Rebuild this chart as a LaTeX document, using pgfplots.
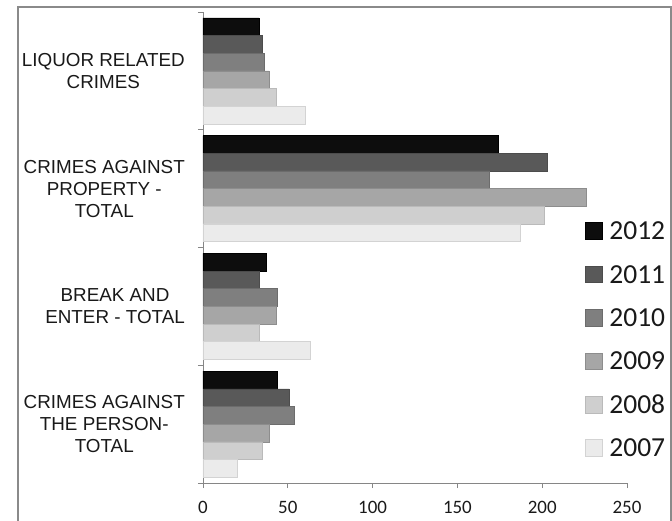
\documentclass[border=0pt]{standalone}
\usepackage{pgfplots}
\pgfplotsset{compat=1.18}
\usepackage{fontspec}
\setmainfont{Liberation Sans}
\newfontfamily\calibri{Carlito}
\definecolor{c12}{HTML}{0D0D0D}
\definecolor{c11}{HTML}{595959}
\definecolor{c10}{HTML}{7F7F7F}
\definecolor{c09}{HTML}{A6A6A6}
\definecolor{c08}{HTML}{CFCFCF}
\definecolor{c07}{HTML}{EBEBEB}
\definecolor{axgray}{HTML}{868686}
\definecolor{framegray}{HTML}{8A8A8A}
\begin{document}
\begin{tikzpicture}
\begin{axis}[
  at={(0,0)}, anchor=south west,
  scale only axis, width=424bp, height=471bp,
  xmin=0, xmax=250, ymin=-0.5, ymax=3.5, y dir=reverse,
  axis x line*=bottom, axis y line*=left,
  axis line style={draw=axgray, line width=0.8bp},
  xtick={0,50,...,250}, tick align=outside, major tick length=5bp,
  tick style={draw=axgray, line width=0.8bp},
  /pgf/number format/assume math mode=true,
  xticklabel style={font=\calibri\fontsize{19}{21}\selectfont, inner sep=0pt, anchor=north, text height=12bp, text depth=0pt, yshift=-13bp, text=black!90},
  ytick={-0.5,0.5,1.5,2.5,3.5}, yticklabels={},
  extra y ticks={0,1,2,3},
  extra y tick labels={{LIQUOR RELATED\\CRIMES},{CRIMES AGAINST\\PROPERTY -\\TOTAL},{BREAK AND\\ENTER - TOTAL},{CRIMES AGAINST\\THE PERSON-\\TOTAL}},
  extra y tick style={major tick length=0pt, yticklabel style={align=center, font=\fontsize{18.9}{22}\selectfont, inner sep=0pt, xshift=-18bp, text=black!90}},
  xbar, bar width=0.15,
  legend image code/.code={\draw[#1, line width=0.5bp] (0bp,-8.3bp) rectangle (16.7bp,8.3bp);},
  legend style={at={(0.901,0.554)}, anchor=north west, draw=none, fill=none, inner sep=0pt,
    font=\calibri\fontsize{27.6}{30}\selectfont, row sep=25.9bp,
    nodes={inner sep=0pt, text height=17.5bp, text depth=0pt, text=black!90}},
  /tikz/every odd column/.append style={column sep=7bp},
  legend cell align=left,
]
\addplot[bar shift=-0.375, fill=c12, draw=black, line width=0.5bp] coordinates {(33,0) (174,1) (37,2) (44,3)};
\addplot[bar shift=-0.225, fill=c11, draw=c11!85!black, line width=0.5bp] coordinates {(35,0) (203,1) (33,2) (51,3)};
\addplot[bar shift=-0.075, fill=c10, draw=c10!85!black, line width=0.5bp] coordinates {(36,0) (169,1) (44,2) (54,3)};
\addplot[bar shift=0.075, fill=c09, draw=c09!85!black, line width=0.5bp] coordinates {(39,0) (226,1) (43,2) (39,3)};
\addplot[bar shift=0.225, fill=c08, draw=c08!90!black, line width=0.5bp] coordinates {(43,0) (201,1) (33,2) (35,3)};
\addplot[bar shift=0.375, fill=c07, draw=c07!90!black, line width=0.5bp] coordinates {(60,0) (187,1) (63,2) (20,3)};
\legend{2012,2011,2010,2009,2008,2007}
\end{axis}
\draw[framegray, line width=1.8bp] (-185bp,-80bp) rectangle (468bp,476bp);
\pgfresetboundingbox
\useasboundingbox (-203bp,-38bp) rectangle (469bp,483bp);
\end{tikzpicture}
\end{document}
